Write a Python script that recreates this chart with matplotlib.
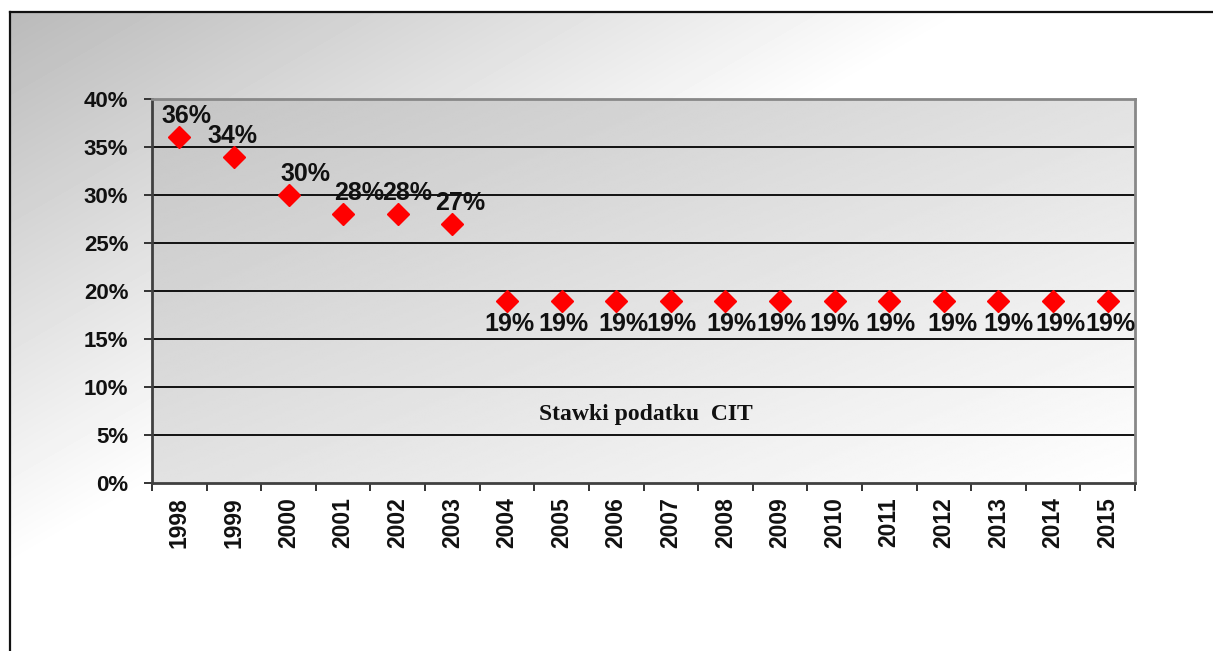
import numpy as np
import matplotlib.pyplot as plt

years = ['1998', '1999', '2000', '2001', '2002', '2003', '2004', '2005', '2006',
         '2007', '2008', '2009', '2010', '2011', '2012', '2013', '2014', '2015']
rates = [36, 34, 30, 28, 28, 27, 19, 19, 19, 19, 19, 19, 19, 19, 19, 19, 19, 19]
yticks = [0, 5, 10, 15, 20, 25, 30, 35, 40]
caption = 'Stawki podatku  CIT'

# small manual nudges of the value labels (pixels)
label_dx = [7, -1, 17, 16, 9, 8, 2, 2, 7, 1, 6, 1, 0, 1, 9, 10, 7, 3]

W, H = 1213, 651
fig = plt.figure(figsize=(W / 100, H / 100), dpi=100)
fig.patch.set_facecolor('white')

# slide background with frame on left / top
bg = fig.add_axes([10 / W, 0, 1 - 10 / W, (H - 12) / H])
gx, gy = np.meshgrid(np.linspace(0, 1, 300), np.linspace(0, 1, 200))
u = np.clip(1.25 * gx + 1.15 * gy, 0, 1)
bg.imshow(0.73 + 0.27 * u, cmap='gray', vmin=0, vmax=1, aspect='auto',
          extent=[0, 1, 1, 0], interpolation='bilinear')
bg.set_xlim(0, 1)
bg.set_ylim(1, 0)
bg.set_xticks([])
bg.set_yticks([])
for s in ['right', 'bottom']:
    bg.spines[s].set_visible(False)
for s in ['left', 'top']:
    bg.spines[s].set_linewidth(1.6)
    bg.spines[s].set_color('#111111')

ax = fig.add_axes([152 / W, (H - 483) / H, (1135 - 152) / W, (483 - 99) / H])
ax.set_facecolor('none')
x = np.arange(len(years))
ax.set_xlim(-0.5, len(years) - 0.5)
ax.set_ylim(0, 40)

px, py = np.meshgrid(np.linspace(0, 1, 300), np.linspace(0, 1, 200))
pu = (px + py) / 2
ax.imshow(0.77 + 0.23 * pu, cmap='gray', vmin=0, vmax=1, aspect='auto',
          extent=[-0.5, len(years) - 0.5, 0, 40], origin='upper',
          interpolation='bilinear', zorder=0)

for v in yticks[1:-1]:
    ax.axhline(v, color='#111111', lw=1.4, zorder=1)

ax.plot(x, rates, linestyle='none', marker='D', markersize=11,
        color='#ff0000', markeredgecolor='#ff0000', zorder=3)

for i, (xi, r) in enumerate(zip(x, rates)):
    dy = -23 if r < 20 else 21
    ax.annotate(f'{r}%', (xi, r), xytext=(label_dx[i], dy),
                textcoords='offset pixels', ha='center', va='center',
                fontsize=18, fontweight='bold', family='Liberation Sans',
                color='#111111', zorder=4)

ax.text(8.55, 7.1, caption, ha='center', va='center', fontsize=17,
        fontweight='bold', family='Liberation Serif', color='#111111')

ax.set_yticks(yticks)
ax.set_yticklabels([f'{v}%' for v in yticks], fontsize=16, fontweight='bold',
                   family='Liberation Sans', color='#111111')
ax.set_xticks(x)
ax.set_xticklabels(years, rotation=90, fontsize=16.5, fontweight='bold',
                   family='Liberation Sans', color='#111111')
ax.set_xticks(np.arange(len(years) + 1) - 0.5, minor=True)
ax.tick_params(axis='x', which='major', length=0, pad=10)
ax.tick_params(axis='x', which='minor', length=6, width=1.4, color='#333333',
               direction='out')
ax.tick_params(axis='y', length=6, width=1.4, color='#333333', pad=11)

ax.spines['left'].set_color('#404040')
ax.spines['bottom'].set_color('#404040')
ax.spines['top'].set_color('#888888')
ax.spines['right'].set_color('#888888')
for s in ax.spines.values():
    s.set_linewidth(2)

fig.savefig('out.png', dpi=100)
